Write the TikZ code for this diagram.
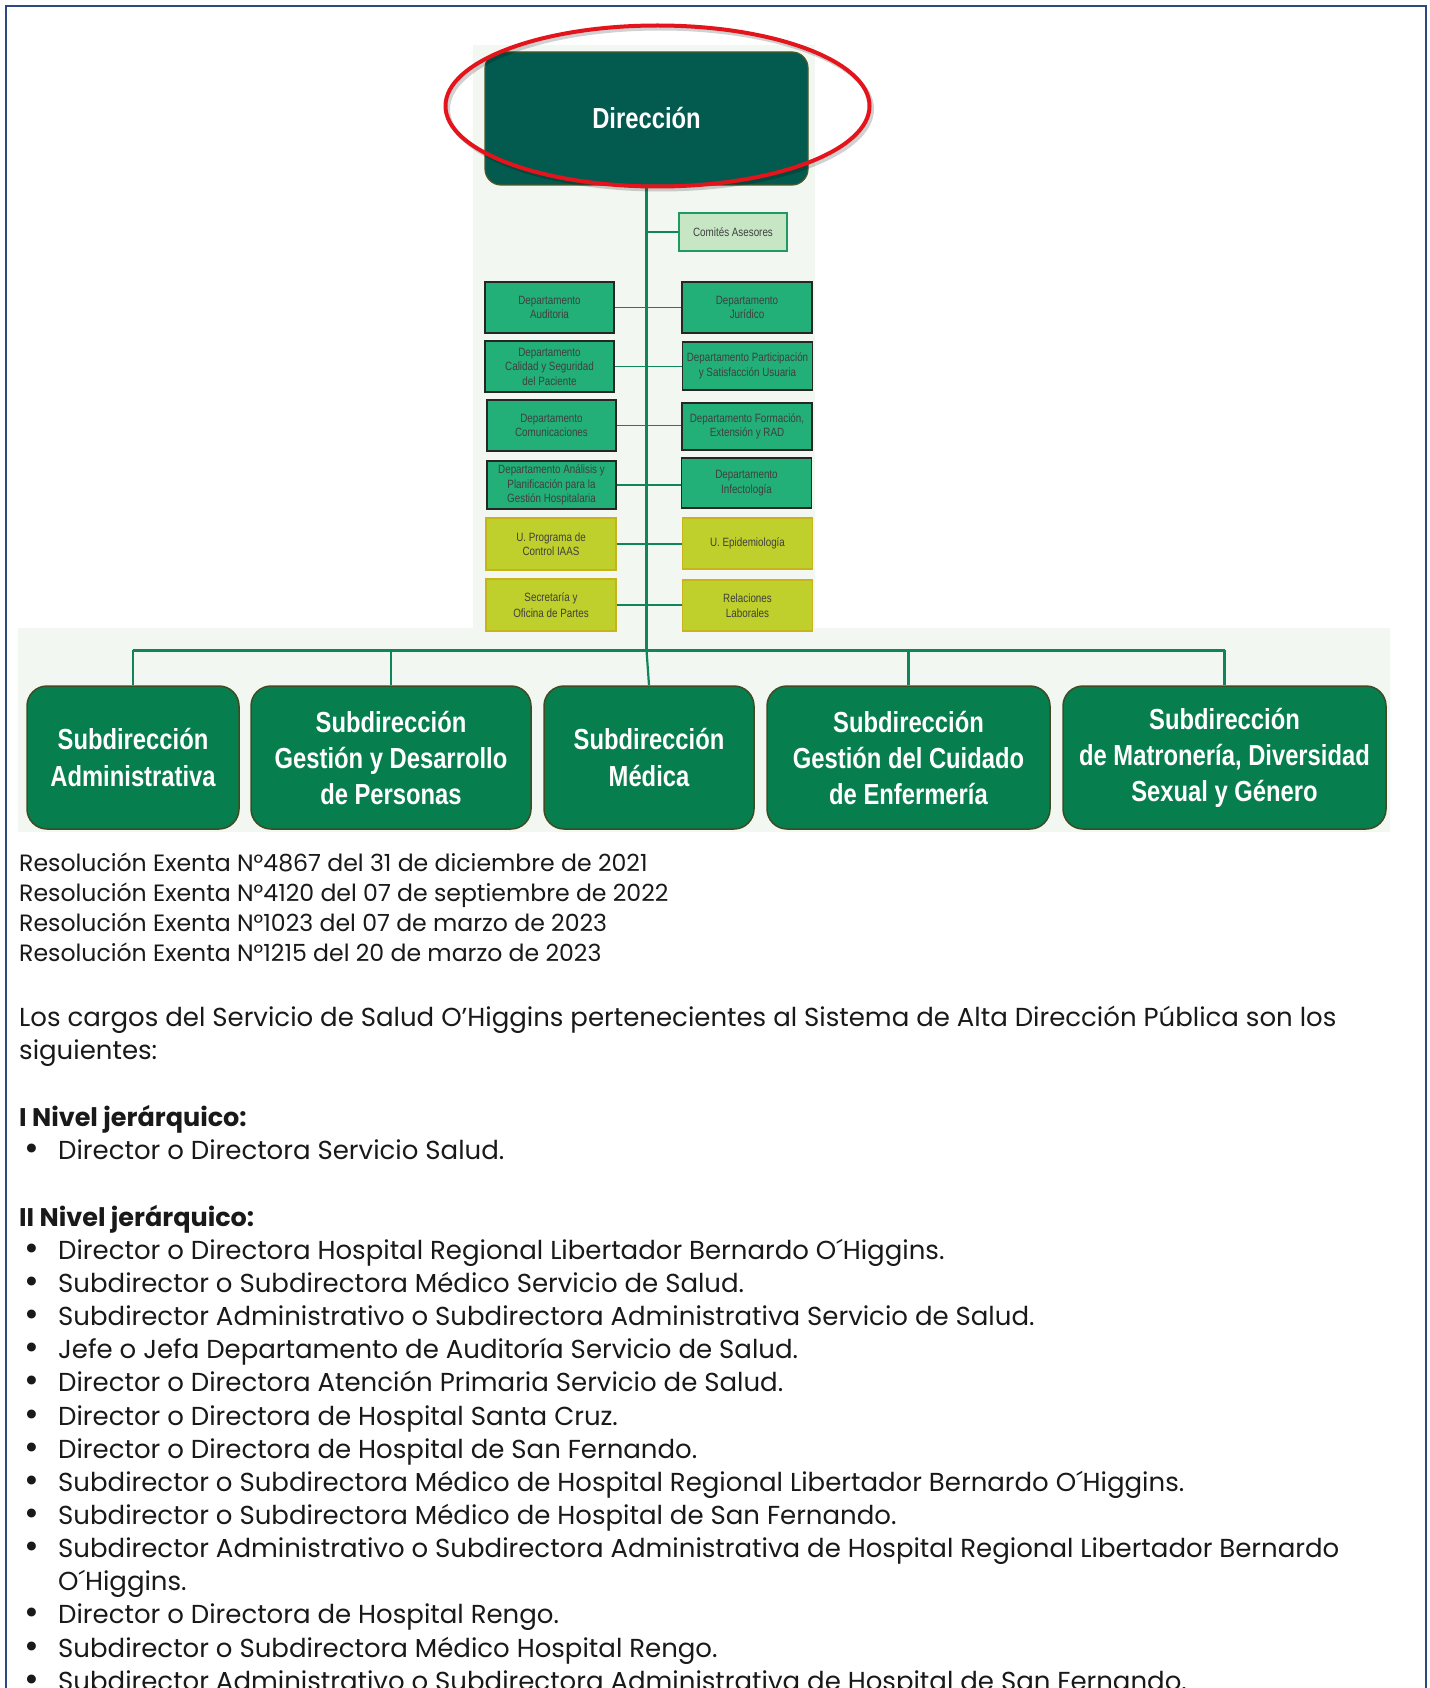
\documentclass[tikz,border=0pt]{standalone}
\usepackage{fontspec}
\setmainfont{Poppins}
\newfontfamily\narrowfont[FakeStretch=0.82]{Liberation Sans}
\usetikzlibrary{shapes.geometric}

\definecolor{frameblue}{HTML}{2B4A7E}
\definecolor{panel}{HTML}{F3F7F2}
\definecolor{dirfill}{HTML}{035A4E}
\definecolor{dirborder}{HTML}{4E5A28}
\definecolor{subfill}{HTML}{077E4E}
\definecolor{subborder}{HTML}{3F4B22}
\definecolor{deptfill}{HTML}{23AF78}
\definecolor{yelfill}{HTML}{BFCF2B}
\definecolor{yelborder}{HTML}{C7B41C}
\definecolor{comfill}{HTML}{C6E6C4}
\definecolor{comborder}{HTML}{1F9A62}
\definecolor{linkgreen}{HTML}{0E855A}
\definecolor{ovalred}{HTML}{E3141B}

\tikzset{
  dirbox/.style={rounded corners=16, fill=dirfill, draw=dirborder, line width=1.2,
    text=white, font=\narrowfont\bfseries\fontsize{29}{33}\selectfont,
    minimum width=323, minimum height=133, inner sep=0},
  subbox/.style={rounded corners=20, fill=subfill, draw=subborder, line width=1.5,
    text=white, align=center, font=\narrowfont\bfseries\fontsize{29}{36}\selectfont,
    minimum height=143, inner sep=0},
  deptbox/.style={fill=deptfill, draw=black!85, line width=1.3, text=black!75,
    align=center, font=\narrowfont\fontsize{12}{14.5}\selectfont, inner sep=0},
  yelbox/.style={deptbox, fill=yelfill, draw=yelborder},
  combox/.style={deptbox, fill=comfill, draw=comborder},
  link/.style={draw=linkgreen, line width=1.4},
  trunk/.style={draw=linkgreen, line width=3},
  drop/.style={draw=linkgreen, line width=2.2},
  oval/.style={ellipse, draw=ovalred, line width=4, inner sep=0},
  bodytext/.style={anchor=base west, inner sep=0, text=black!90, font=\fontsize{26}{30}\selectfont},
  bullettext/.style={bodytext, font=\fontsize{36}{30}\selectfont},
  restext/.style={bodytext, font=\fontsize{23.6}{28}\selectfont},
  headtext/.style={bodytext, font=\bfseries\fontsize{25.5}{30}\selectfont},
}

\begin{document}
\begin{tikzpicture}[x=1pt,y=-1pt]
\useasboundingbox (0,0) rectangle (1429,1688);
\fill[white] (0,0) rectangle (1429,1688);
% frame
\draw[frameblue, line width=2] (5.5,1690) -- (5.5,6) -- (1425.5,6) -- (1425.5,1690);
% light panels
\fill[panel] (473,45) rectangle (815,640);
\fill[panel] (18,628) rectangle (1390,832);

% Direccion
\node[dirbox] (dir) at (646.5,118.5) {Dirección};

% advisory
\node[combox, minimum width=108, minimum height=38] (com) at (733,232) {Comités Asesores};

% departments left
\node[deptbox, minimum width=129, minimum height=51] (aud) at (549.5,307.5) {Departamento\\Auditoria};
\node[deptbox, minimum width=129, minimum height=51] (cal) at (549.5,366.5) {Departamento\\Calidad y Seguridad\\del Paciente};
\node[deptbox, minimum width=129, minimum height=51] (comu) at (551.5,425.5) {Departamento\\Comunicaciones};
\node[deptbox, minimum width=129, minimum height=48] (ana) at (551.5,485) {Departamento Análisis y\\Planificación para la\\Gestión Hospitalaria};
\node[yelbox, minimum width=130, minimum height=52] (iaas) at (551,544) {U. Programa de\\Control IAAS};
\node[yelbox, minimum width=130, minimum height=52] (sec) at (551,605) {Secretaría y\\[2pt]Oficina de Partes};
% departments right
\node[deptbox, minimum width=130, minimum height=51] (jur) at (747,307.5) {Departamento\\Jurídico};
\node[deptbox, minimum width=130, minimum height=48] (par) at (747.5,366) {Departamento Participación\\y Satisfacción Usuaria};
\node[deptbox, minimum width=130, minimum height=47] (for) at (747,426.5) {Departamento Formación,\\Extensión y RAD};
\node[deptbox, minimum width=130, minimum height=50] (inf) at (746.5,483) {Departamento\\Infectología};
\node[yelbox, minimum width=130, minimum height=51] (epi) at (747.5,543.5) {U. Epidemiología};
\node[yelbox, minimum width=130, minimum height=51] (rel) at (747.5,605.5) {Relaciones\\Laborales};

% subdirecciones
\node[subbox, minimum width=212] (sa) at (133,757.5) {Subdirección\\Administrativa};
\node[subbox, minimum width=280] (sg) at (391,757.5) {Subdirección\\Gestión y Desarrollo\\de Personas};
\node[subbox, minimum width=210] (smed) at (649,757.5) {Subdirección\\Médica};
\node[subbox, minimum width=283] (sc) at (908.5,757.5) {Subdirección\\Gestión del Cuidado\\de Enfermería};
\node[subbox, minimum width=323] (smat) at (1224.5,757.5) {Subdirección\\de Matronería, Diversidad\\Sexual y Género};

% connectors
\coordinate (barmid) at (646.5,650);
\coordinate (barL) at (sa.north |- barmid);
\coordinate (barR) at (smat.north |- barmid);
\foreach \l/\r in {aud/jur, cal/par, comu/for, ana/inf, iaas/epi, sec/rel}
  \draw[link] (\l.east) -- (\l.east -| \r.west);
\draw[link] (dir.south |- com.west) -- (com.west);
\draw[trunk] (dir.south) -- (barmid);
\draw[trunk] (barL) -- (barR);
\foreach \s in {sa, sg, sc, smat}
  \draw[drop] (\s.north |- barmid) -- (\s.north);
\draw[drop] (barmid) -- (smed.north);

% red oval with soft shadow
\node[oval, draw=black, opacity=0.18, minimum width=424, minimum height=161] (ovalshadow) at (660,109) {};
\node[oval, minimum width=424, minimum height=161] (ovalmark) at (657.5,106) {};

% body text
\node[restext] (r1) at (19,871) {Resolución Exenta N°4867 del 31 de diciembre de 2021};
\node[restext] (r2) at (19,901) {Resolución Exenta N°4120 del 07 de septiembre de 2022};
\node[restext] (r3) at (19,931) {Resolución Exenta N°1023 del 07 de marzo de 2023};
\node[restext] (r4) at (19,961) {Resolución Exenta N°1215 del 20 de marzo de 2023};

\node[bodytext] (p1) at (19,1026) {Los cargos del Servicio de Salud O’Higgins pertenecientes al Sistema de Alta Dirección Pública son los};
\node[bodytext] (p2) at (19,1059) {siguientes:};

\node[headtext] (h1) at (19,1126) {I Nivel jerárquico:};
\node[bullettext] (b0) at (24,1160) {•};
\node[bodytext] (i0) at (58,1159) {Director o Directora Servicio Salud.};

\node[headtext] (h2) at (19,1226) {II Nivel jerárquico:};

\foreach \k/\txt [count=\n] in {
  0/{Director o Directora Hospital Regional Libertador Bernardo O´Higgins.},
  1/{Subdirector o Subdirectora Médico Servicio de Salud.},
  2/{Subdirector Administrativo o Subdirectora Administrativa Servicio de Salud.},
  3/{Jefe o Jefa Departamento de Auditoría Servicio de Salud.},
  4/{Director o Directora Atención Primaria Servicio de Salud.},
  5/{Director o Directora de Hospital Santa Cruz.},
  6/{Director o Directora de Hospital de San Fernando.},
  7/{Subdirector o Subdirectora Médico de Hospital Regional Libertador Bernardo O´Higgins.},
  8/{Subdirector o Subdirectora Médico de Hospital de San Fernando.},
  9/{Subdirector Administrativo o Subdirectora Administrativa de Hospital Regional Libertador Bernardo},
  11/{Director o Directora de Hospital Rengo.},
  12/{Subdirector o Subdirectora Médico Hospital Rengo.},
  13/{Subdirector Administrativo o Subdirectora Administrativa de Hospital de San Fernando.}} {
  \node[bullettext] (bul\n) at (24,1260.3+33.14*\k) {•};
  \node[bodytext] (item\n) at (58,1259.3+33.14*\k) {\txt};
}
\node[bodytext] (item9b) at (58,1259.3+33.14*10) {O´Higgins.};
\end{tikzpicture}
\end{document}
